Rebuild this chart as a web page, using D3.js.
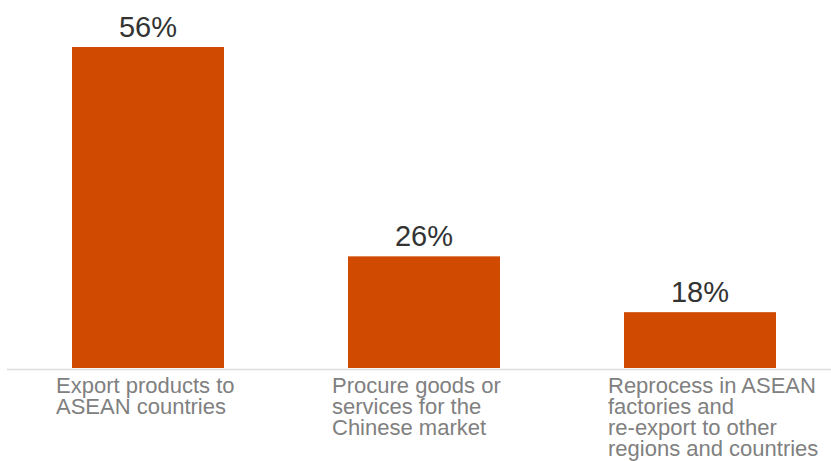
<!DOCTYPE html>
<html>
<head>
<meta charset="utf-8">
<script src="https://cdn.jsdelivr.net/npm/d3@7"></script>
<style>
  html, body { margin: 0; padding: 0; background: #fff; }
  svg { display: block; }
</style>
</head>
<body>
<svg id="chart" width="831" height="461"></svg>
<script>
const categories = [
  ["Export products to", "ASEAN countries"],
  ["Procure goods or", "services for the", "Chinese market"],
  ["Reprocess in ASEAN", "factories and", "re-export to other", "regions and countries"]
];
const values = [56, 26, 18];
const valueLabels = ["56%", "26%", "18%"];

const svg = d3.select("#chart");
const font = "'Liberation Sans', Arial, Helvetica, sans-serif";

const x = d3.scaleBand()
  .domain(d3.range(values.length))
  .range([3, 845])
  .paddingInner(0.4493)
  .paddingOuter(0.25);

const y = d3.scaleLinear()
  .domain([10, 56])
  .range([368, 47]);

// baseline
svg.append("line")
  .attr("x1", 7).attr("x2", 831)
  .attr("y1", 369.5).attr("y2", 369.5)
  .attr("stroke", "#dcdcdc")
  .attr("stroke-width", 1.5);

// bars
svg.selectAll("rect.bar")
  .data(values)
  .join("rect")
  .attr("class", "bar")
  .attr("x", (d, i) => x(i))
  .attr("width", x.bandwidth())
  .attr("y", d => y(d))
  .attr("height", d => y(10) - y(d))
  .attr("fill", "#d04a02");

// value labels
svg.selectAll("text.val")
  .data(values)
  .join("text")
  .attr("class", "val")
  .attr("x", (d, i) => x(i) + x.bandwidth() / 2)
  .attr("y", d => y(d) - 10)
  .attr("text-anchor", "middle")
  .attr("font-family", font)
  .attr("font-size", 29)
  .attr("fill", "#333333")
  .text((d, i) => valueLabels[i]);

// category labels
const cat = svg.selectAll("text.cat")
  .data(categories)
  .join("text")
  .attr("class", "cat")
  .attr("font-family", font)
  .attr("font-size", 22)
  .attr("fill", "#808080");

cat.each(function(lines, i) {
  const t = d3.select(this);
  lines.forEach((ln, j) => {
    t.append("tspan")
      .attr("x", x(i) - 16)
      .attr("y", 393 + j * 21)
      .text(ln);
  });
});
</script>
</body>
</html>
